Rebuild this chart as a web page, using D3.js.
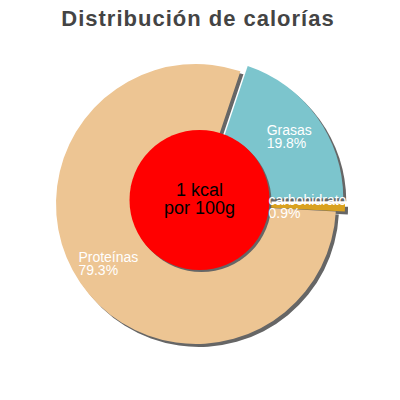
<!DOCTYPE html>
<html><head><meta charset="utf-8">
<script src="https://cdn.jsdelivr.net/npm/d3@7"></script>
<style>body{margin:0;background:#fff}</style>
</head><body>
<svg id="c" width="400" height="400"></svg>
<script>
const title = "Distribución de calorías";
const categories = ["Grasas", "carbohidratos", "Proteínas"];
const values = [19.8, 0.9, 79.3];
const labels = ["19.8%", "0.9%", "79.3%"];
const colors = ["#7cc5cd", "#d9a11f", "#edc593"];
const exploded = [true, true, false];
const centerLines = ["1 kcal", "por 100g"];

const svg = d3.select("#c");
const cx = 196, cy = 204, R = 140, explode = 9, labelR = 106;
const rcx = 199.5, rcy = 200, rCenter = 70;
const font = "'Liberation Sans', Arial, sans-serif";

svg.append("text").attr("x", 198).attr("y", 26).attr("text-anchor", "middle")
  .attr("font-family", font).attr("font-weight", "bold").attr("font-size", 22)
  .attr("letter-spacing", 1)
  .attr("fill", "#444").text(title);

const data = categories.map((c, i) => ({cat: c, value: values[i], label: labels[i], color: colors[i], ex: exploded[i]}));
const pie = d3.pie().sort(null).value(d => d.value)
  .startAngle(18.5 * Math.PI / 180).endAngle(378.5 * Math.PI / 180);
const arcs = pie(data);
const arc = d3.arc().innerRadius(0).outerRadius(R);
const off = a => {
  if (!a.data.ex) return [0, 0];
  const m = (a.startAngle + a.endAngle) / 2;
  return [Math.sin(m) * explode, -Math.cos(m) * explode];
};
const g = svg.append("g").attr("transform", `translate(${cx},${cy})`);
// shadows
g.selectAll("path.sh").data(arcs).join("path").attr("class", "sh")
  .attr("d", arc).attr("fill", "#666")
  .attr("transform", a => { const o = off(a); return `translate(${o[0] + 3},${o[1] + 3})`; });
g.selectAll("path.sl").data(arcs).join("path").attr("class", "sl")
  .attr("d", arc).attr("fill", a => a.data.color)
  .attr("transform", a => { const o = off(a); return `translate(${o[0]},${o[1]})`; });

// center circle
const cg = svg.append("g").attr("transform", `translate(${rcx},${rcy})`);
cg.append("circle").attr("cx", 2).attr("cy", 2).attr("r", rCenter).attr("fill", "#666");
cg.append("circle").attr("cx", 0).attr("cy", 0).attr("r", rCenter).attr("fill", "#ff0000");
centerLines.forEach((t, i) => {
  cg.append("text").attr("x", 0).attr("y", -4 + i * 18).attr("text-anchor", "middle")
    .attr("font-family", font).attr("font-size", 18).attr("fill", "#000").text(t);
});

// labels (on top)
const lg = svg.append("g").attr("transform", `translate(${cx},${cy})`);
arcs.forEach(a => {
  const m = (a.startAngle + a.endAngle) / 2;
  const o = off(a);
  const px = Math.sin(m) * labelR + o[0], py = -Math.cos(m) * labelR + o[1];
  const t1 = lg.append("text").attr("font-family", font).attr("font-size", 14)
    .attr("fill", "#fff").text(a.data.cat);
  const w = t1.node().getComputedTextLength();
  const x0 = px - w / 2;
  t1.attr("x", x0).attr("y", py - 1.5);
  lg.append("text").attr("font-family", font).attr("font-size", 14)
    .attr("fill", "#fff").attr("x", x0).attr("y", py + 11).text(a.data.label);
});
</script>
</body></html>
